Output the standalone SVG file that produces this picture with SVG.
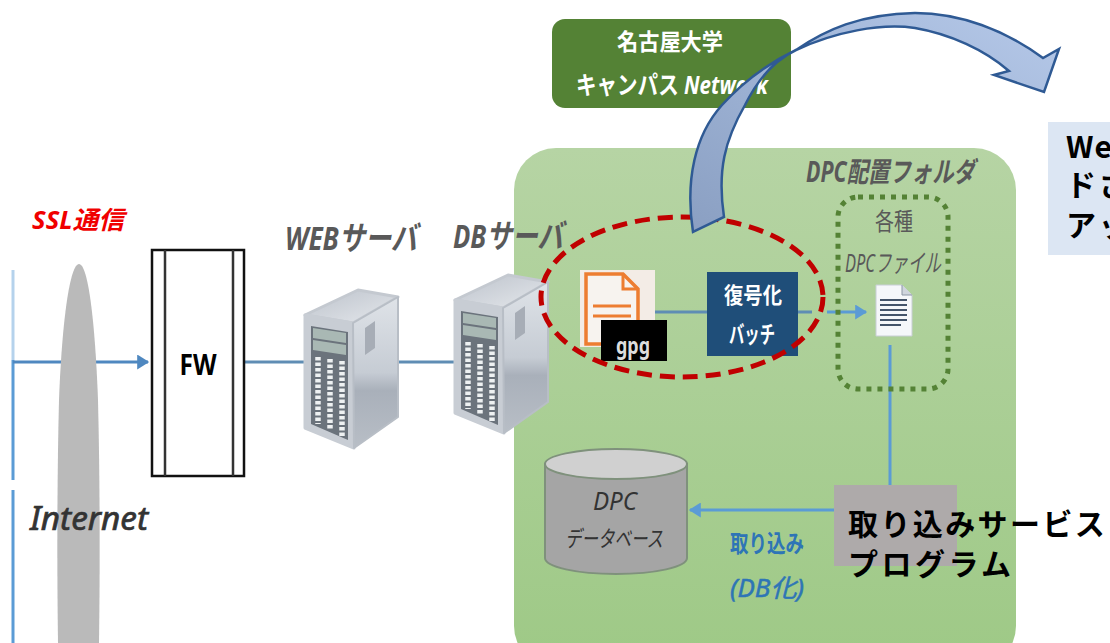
<svg xmlns="http://www.w3.org/2000/svg" width="1110" height="643" viewBox="0 0 1110 643">
<style>
text{font-family:"Noto Sans","Noto Sans CJK JP",sans-serif}
.c{text-anchor:middle}
.i{font-style:italic}
.b{font-weight:700}
.g{fill:#595959}
.w{fill:#fff}
.line{fill:none;stroke:#5b9bd5;stroke-width:3}
.dark{fill:none;stroke:#5f8db4;stroke-width:3}
.big{font-family:"Noto Sans CJK JP",sans-serif;font-size:30px;letter-spacing:2.4px;font-weight:700;fill:#000}
.rowd{stroke:#eef1f2;stroke-width:5.5;stroke-dasharray:3.5 2;fill:none}
</style>
<defs>
<linearGradient id="panel" x1="0" y1="0" x2="0" y2="1"><stop offset="0" stop-color="#b6d4a4"/><stop offset="1" stop-color="#9ec986"/></linearGradient>
<linearGradient id="arrowFill" x1="0" y1="1" x2="1" y2="0"><stop offset="0" stop-color="#8a9fc2"/><stop offset="0.5" stop-color="#9fb4d6"/><stop offset="1" stop-color="#b6c9e9"/></linearGradient>
<linearGradient id="side" x1="0" y1="0" x2="0" y2="1"><stop offset="0" stop-color="#dfe3e8"/><stop offset="0.5" stop-color="#c6ccd4"/><stop offset="0.62" stop-color="#a9b0ba"/><stop offset="1" stop-color="#b8bec6"/></linearGradient>
<linearGradient id="top" x1="0" y1="0" x2="1" y2="1"><stop offset="0" stop-color="#bcc2cb"/><stop offset="1" stop-color="#e5e8ec"/></linearGradient>
<marker id="ah" markerWidth="5" markerHeight="5" refX="3.6" refY="2.5" orient="auto"><path d="M0 0L4 2.5L0 5z" fill="#5b9bd5"/></marker>
<marker id="ah2" markerWidth="5" markerHeight="5" refX="3.6" refY="2.5" orient="auto"><path d="M0 0L4 2.5L0 5z" fill="#4f88c0"/></marker>
<g id="server">
<polygon points="0,25 53,0 93,7 48,33" fill="url(#top)" stroke="#c4c9d0" stroke-width="3" stroke-linejoin="round"/>
<polygon points="0,25 48,33 49,158 0,138" fill="#c8cdd4" stroke="#c8cdd4" stroke-width="3" stroke-linejoin="round"/>
<polygon points="48,33 93,7 93,127 49,158" fill="url(#side)" stroke="#b8bec6" stroke-width="2" stroke-linejoin="round"/>
<polygon points="60,38 70,31 70,58 60,65" fill="#a7adb6"/>
<polygon points="6,36 43,42 43,150 6,134" fill="#6b737c"/>
<polygon points="8,38 41,43 41,53 8,48" fill="#a9b8b4"/>
<polygon points="8,50 41,55 41,65 8,60" fill="#a9b8b4"/>
<path class="rowd" d="M13 67V134M25 69V140M37 71V146"/>
</g>
</defs>

<rect id="panel-bg" x="514" y="148" width="502" height="520" rx="42" fill="url(#panel)"/>

<g id="connectors">
<path class="line" d="M13 270V360" stroke-opacity=".45"/>
<path class="line" d="M13 360V480M13 490V643"/>
<path d="M13 362H148" class="dark" style="stroke:#4f88c0" marker-end="url(#ah2)"/>
<path d="M245 362H306M398 362H456" class="dark"/>
<path d="M655 312H707M798 312H812" class="dark"/>
<path d="M827 312H866" class="line" marker-end="url(#ah)"/>
<path d="M890 345V486" class="line"/>
<path d="M834 510H690" class="line" marker-end="url(#ah)"/>
</g>

<g id="internet">
<path d="M79 264C70 264 62 320 59 400C57 480 57 570 58 643H99C100 570 100 480 98 400C95 320 88 264 79 264Z" fill="#bababa"/>
<text x="30" y="530" font-size="32" class="i" fill="#333" stroke="#333" stroke-width=".7" textLength="118" lengthAdjust="spacingAndGlyphs">Internet</text>
</g>
<text id="ssl" x="32" y="229" font-size="25" class="i b" fill="#f00000" textLength="92" lengthAdjust="spacingAndGlyphs">SSL通信</text>

<g id="fw">
<rect x="152" y="250" width="92" height="226" fill="#fff" stroke="#111" stroke-width="2.5"/>
<path d="M165 250V476M233 250V476" stroke="#333" stroke-width="2.5" fill="none"/>
<text x="198" y="375" font-size="28" class="c b" fill="#000" textLength="37" lengthAdjust="spacingAndGlyphs">FW</text>
</g>

<g id="web-server">
<use href="#server" x="305" y="290"/>
<text x="285" y="250" font-size="33" class="i b g" textLength="132" lengthAdjust="spacingAndGlyphs">WEBサーバ</text>
</g>
<g id="db-server">
<use href="#server" x="455" y="275"/>
<text x="453" y="248" font-size="33" class="i b g" textLength="110" lengthAdjust="spacingAndGlyphs">DBサーバ</text>
</g>

<g id="campus">
<rect x="552" y="19" width="239" height="89" rx="13" fill="#548235"/>
<text x="670" y="50" font-size="23" class="c b w" textLength="106" lengthAdjust="spacingAndGlyphs">名古屋大学</text>
<text x="576" y="94" font-size="25" class="b w" textLength="192" lengthAdjust="spacingAndGlyphs">キャンパス <tspan class="i">Network</tspan></text>
</g>

<g id="gpg-file">
<rect x="580" y="270" width="75" height="77" fill="#f3ece6"/>
<path d="M586 274H623L638 289V344H586Z" fill="#f7f3ef" stroke="#ed7d31" stroke-width="3.5"/>
<path d="M623 274V289H638M593 306H631M593 316H631" fill="none" stroke="#ed7d31" stroke-width="3"/>
<rect x="601" y="320" width="66" height="41" fill="#000"/>
<text x="633" y="354" font-size="24" class="c b" fill="#ddd" textLength="34" lengthAdjust="spacingAndGlyphs">gpg</text>
</g>

<g id="decrypt">
<rect x="707" y="272" width="91" height="84" fill="#1f4e79"/>
<text x="753" y="303" font-size="22" class="c b w" textLength="58" lengthAdjust="spacingAndGlyphs">復号化</text>
<text x="752" y="343" font-size="24" class="c b w" textLength="46" lengthAdjust="spacingAndGlyphs">バッチ</text>
</g>

<g id="folder">
<text x="806" y="182" font-size="28" class="i b g" textLength="169" lengthAdjust="spacingAndGlyphs">DPC配置フォルダ</text>
<rect x="838" y="197" width="110" height="192" rx="20" fill="none" stroke="#548235" stroke-width="5" stroke-dasharray="5 6"/>
<text x="894" y="230" font-size="24" class="c g" textLength="38" lengthAdjust="spacingAndGlyphs">各種</text>
<text x="845" y="272" font-size="25" class="i g" textLength="96" lengthAdjust="spacingAndGlyphs">DPCファイル</text>
<path d="M876 285H902L912 295V336H876Z" fill="#f5f7fa" stroke="#c8ced6"/>
<path d="M902 285V295H912" fill="#cfd5dd" stroke="#8c96a5"/>
<path d="M880 300H907M880 305H907M880 310H907M880 315H907M880 320H907M880 325H901" stroke="#44546a" stroke-width="2" fill="none"/>
</g>

<g id="ring">
<ellipse cx="682" cy="297" rx="141" ry="80" fill="none" stroke="#c00000" stroke-width="5" stroke-dasharray="15 8"/>
</g>

<g id="curved-arrow">
<path d="M693 232C685 180 695 135 722 105C740 85 765 65 796 50C825 30 860 14 915 13C960 13 1005 30 1043 58L1059 49L1044 92L994 75L1009 71C985 50 950 34 915 28C880 23 835 32 796 50C770 62 755 85 745 105C725 140 717 170 724 217Z" fill="url(#arrowFill)" stroke="#2f5a94" stroke-width="2.5"/>
</g>

<g id="database">
<path d="M545 464V558C545 567 577 574 616 574S687 567 687 558V464Z" fill="#a5a5a5" stroke="#7f917c" stroke-width="2"/>
<ellipse cx="616" cy="464" rx="71" ry="15" fill="#d0d0d0" stroke="#7f917c" stroke-width="2"/>
<text x="615" y="510" font-size="25" class="c i" fill="#333" textLength="44" lengthAdjust="spacingAndGlyphs">DPC</text>
<text x="614" y="547" font-size="23" class="c i" fill="#333" textLength="98" lengthAdjust="spacingAndGlyphs">データベース</text>
</g>

<g id="import-label">
<text x="767" y="552" font-size="24" class="c b" fill="#2e75b6" textLength="74" lengthAdjust="spacingAndGlyphs">取り込み</text>
<text x="767" y="597" font-size="25" class="c i" fill="#2e75b6" stroke="#2e75b6" stroke-width=".5" textLength="74" lengthAdjust="spacingAndGlyphs">(DB化)</text>
</g>

<g id="service">
<rect x="834" y="485" width="123" height="81" fill="#aeaaaa"/>
<text x="848" y="535" class="big">取り込みサービス</text>
<text x="848" y="575" class="big" style="letter-spacing:3.5px">プログラム</text>
</g>

<g id="web-note">
<rect x="1048" y="122" width="62" height="133" fill="#dce6f3"/>
<text x="1066" y="158" class="big" style="letter-spacing:1px">We</text>
<text x="1066" y="196" class="big">ドさ</text>
<text x="1066" y="236" class="big">アッ</text>
</g>
</svg>
